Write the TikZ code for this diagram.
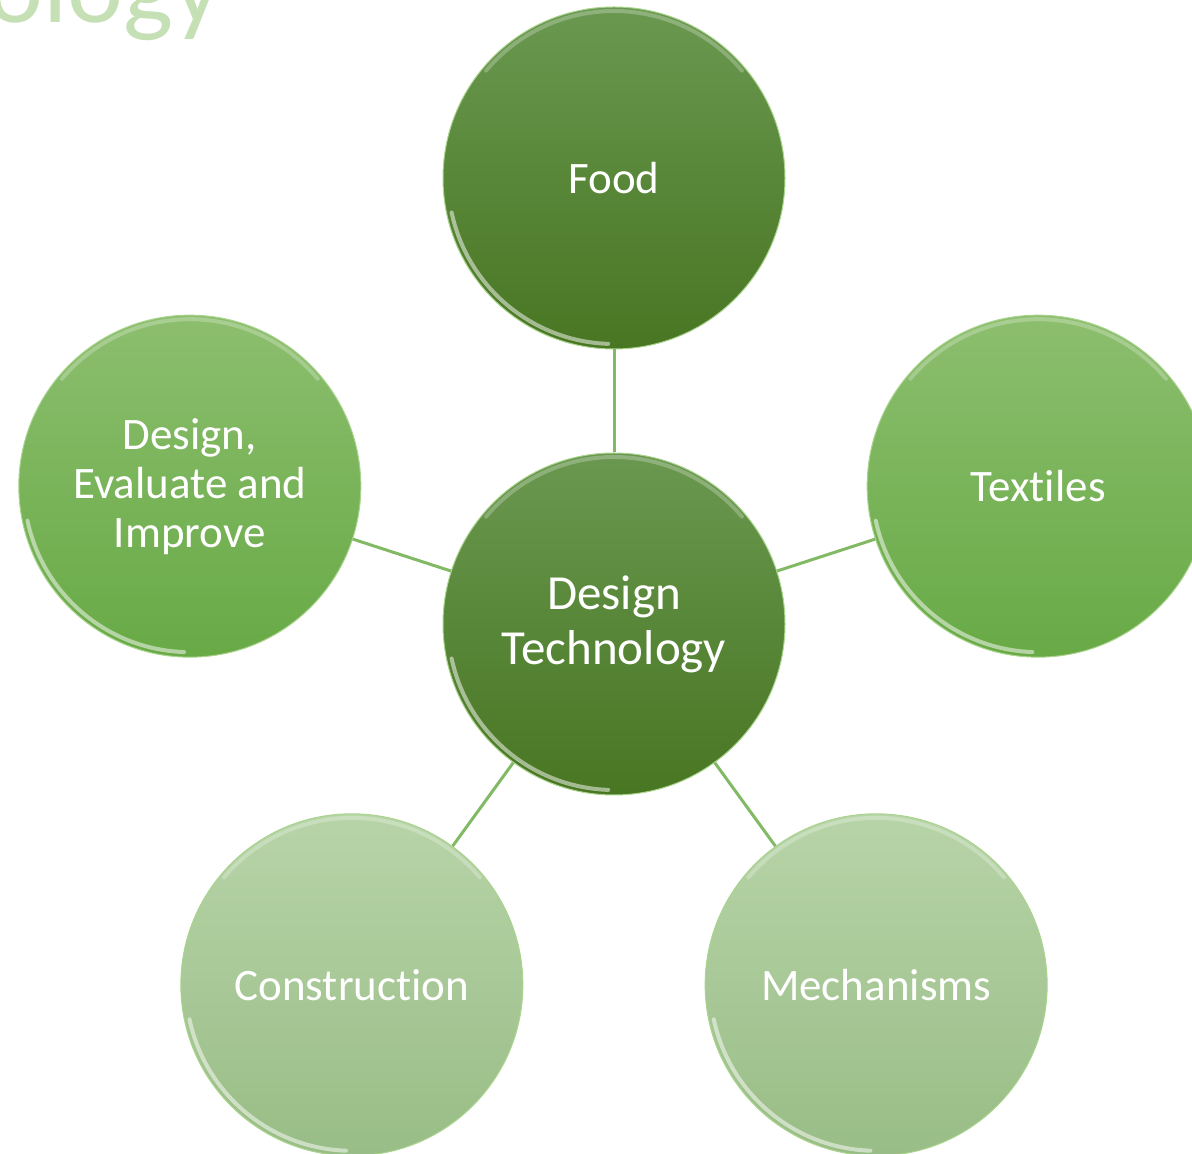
\documentclass[tikz,border=0pt]{standalone}
\usepackage{fontspec}
\setmainfont{Carlito}[Ligatures=NoCommon]
\usetikzlibrary{positioning}

\definecolor{dtdarktop}{RGB}{106,152,80}
\definecolor{dtdarkbot}{RGB}{72,118,34}
\definecolor{dtmidtop}{RGB}{140,190,110}
\definecolor{dtmidbot}{RGB}{104,170,70}
\definecolor{dtlighttop}{RGB}{183,212,168}
\definecolor{dtlightbot}{RGB}{153,189,134}
\definecolor{dtlink}{RGB}{130,185,100}
\definecolor{dtrim}{RGB}{170,212,142}
\definecolor{dttitle}{RGB}{197,224,180}

\tikzstyle{bubble}=[circle, minimum size=342pt, inner sep=0pt, align=center, text=white,
    draw=dtrim, line width=1pt, font={\fontsize{45}{49}\selectfont},
    path picture={
        % glossy edge, lower left and top
        \draw[white, opacity=.5, line width=4pt, line cap=round]
            ([shift={(192:166pt)}]path picture bounding box.center) arc[start angle=192, end angle=268, radius=166pt];
        \draw[white, opacity=.25, line width=4pt, line cap=round]
            ([shift={(40:167pt)}]path picture bounding box.center) arc[start angle=40, end angle=140, radius=167pt];
    }]
\tikzstyle{core}=[bubble, top color=dtdarktop, bottom color=dtdarkbot]
\tikzstyle{branch}=[bubble, top color=dtmidtop, bottom color=dtmidbot]
\tikzstyle{faint}=[bubble, top color=dtlighttop, bottom color=dtlightbot]
\tikzstyle{link}=[draw=dtlink, line width=3pt]

\begin{document}
\begin{tikzpicture}
    \useasboundingbox (0,0) rectangle (1192pt,1154pt);

    \node [anchor=base west, text=dttitle, font={\fontsize{106}{116}\selectfont}] (title) at (-16pt,1131pt) {ology};

    \node [core, font={\fontsize{49}{55}\selectfont}] (hub) at (614pt,530pt) {Design\\Technology};
    \node [core] (food) at ([shift={(90:446pt)}]hub.center) {Food};
    \node [branch] (textiles) at ([shift={(18:446pt)}]hub.center) {Textiles};
    \node [branch] (improve) at ([shift={(162:446pt)}]hub.center) {Design,\\Evaluate and\\Improve};
    \node [faint] (construction) at ([shift={(234:446pt)}]hub.center) {Construction};
    \node [faint] (mechanisms) at ([shift={(306:446pt)}]hub.center) {Mechanisms};

    \foreach \leaf in {food, textiles, improve, construction, mechanisms}
        \path [link] (hub) -- (\leaf);
\end{tikzpicture}
\end{document}
